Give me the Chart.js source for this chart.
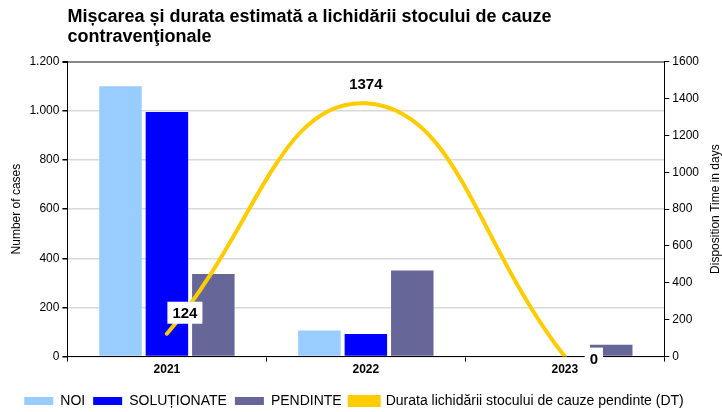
<!DOCTYPE html>
<html>
<head>
<meta charset="utf-8">
<script src="https://cdn.jsdelivr.net/npm/chart.js@4.4.1/dist/chart.umd.min.js"></script>
<style>
  html, body { margin: 0; padding: 0; background: #fff; }
  #wrap { width: 722px; height: 412px; }
</style>
</head>
<body>
<div id="wrap"><canvas id="chart"></canvas></div>
<script>
/* DATA */
const years = ["2021", "2022", "2023"];
const noi = [1100, 106, 0];
const solutionate = [995, 92, 0];
const pendinte = [336, 350, 48];
const durata = [124, 1374, 0];

const FONT = "'Liberation Sans', Arial, sans-serif";

/* label offsets for the DT line values */
const labelOffsets = [[18, -21], [0, -19], [29, 2]];

const fmtThousands = v => String(v).replace(/\B(?=(\d{3})+(?!\d))/g, ".");

/* value labels on the line */
const lineLabels = {
    id: "lineLabels",
    afterDatasetsDraw(chart) {
        const meta = chart.getDatasetMeta(3);
        const ctx = chart.ctx;
        ctx.save();
        ctx.font = "bold 15px " + FONT;
        ctx.textAlign = "center";
        ctx.textBaseline = "middle";
        meta.data.forEach((pt, i) => {
            const txt = String(durata[i]);
            const x = pt.x + labelOffsets[i][0];
            const y = pt.y + labelOffsets[i][1];
            const w = ctx.measureText(txt).width + 10;
            ctx.fillStyle = "#fff";
            ctx.fillRect(x - w / 2, y - 11, w, 22);
            ctx.fillStyle = "#000";
            ctx.fillText(txt, x, y + 1);
        });
        ctx.restore();
    }
};

/* right axis title, read bottom to top */
const rightTitle = {
    id: "rightTitle",
    afterDraw(chart) {
        const ctx = chart.ctx;
        const a = chart.chartArea;
        ctx.save();
        ctx.translate(chart.width - 6, (a.top + a.bottom) / 2);
        ctx.rotate(-Math.PI / 2);
        ctx.font = "12px " + FONT;
        ctx.fillStyle = "#000";
        ctx.textAlign = "center";
        ctx.textBaseline = "middle";
        ctx.fillText("Disposition Time in days", 0, 0);
        ctx.restore();
    }
};

new Chart(document.getElementById("chart"), {
    type: "bar",
    data: {
        labels: years,
        datasets: [
            { label: "NOI", data: noi, backgroundColor: "#99CCFF", yAxisID: "y" },
            { label: "SOLUȚIONATE", data: solutionate, backgroundColor: "#0000FF", yAxisID: "y" },
            { label: "PENDINTE", data: pendinte, backgroundColor: "#666699", yAxisID: "y" },
            {
                type: "line", label: "Durata lichidării stocului de cauze pendinte (DT)",
                data: durata, yAxisID: "y1", order: -1,
                borderColor: "#FFCC00", backgroundColor: "#FFCC00",
                borderWidth: 4, borderCapStyle: "round", tension: 0.45,
                pointRadius: 0, pointHoverRadius: 0
            }
        ]
    },
    options: {
        responsive: true,
        maintainAspectRatio: false,
        animation: false,
        categoryPercentage: 0.7,
        barPercentage: 0.915,
        layout: { padding: { left: 6, right: 20, top: 4, bottom: -6 } },
        plugins: {
            tooltip: { enabled: false },
            title: {
                display: true,
                fullSize: false,
                align: "start",
                text: ["Mișcarea și durata estimată a lichidării stocului de cauze", "contravenţionale"],
                color: "#000",
                font: { family: FONT, size: 18, weight: "bold", lineHeight: 1.1 },
                padding: { top: 3, bottom: 15 }
            },
            legend: {
                position: "bottom",
                labels: {
                    color: "#000",
                    boxWidth: 29, boxHeight: 8,
                    padding: 8,
                    font: { family: FONT, size: 14 },
                    sort: (a, b) => a.datasetIndex - b.datasetIndex
                }
            }
        },
        scales: {
            x: {
                grid: { offset: true, drawOnChartArea: false, tickLength: 5, tickColor: "#000" },
                border: { color: "#000", width: 1 },
                ticks: { color: "#000", font: { family: FONT, size: 12, weight: "bold" }, padding: 1 },
                afterFit: s => { s.height += 8; }
            },
            y: {
                position: "left",
                min: 0, max: 1200,
                ticks: {
                    stepSize: 200, color: "#000", padding: 3,
                    font: { family: FONT, size: 12 },
                    callback: v => fmtThousands(v)
                },
                grid: {
                    color: c => c.tick && c.tick.value === 1200 ? "#888" : "#d9d9d9",
                    lineWidth: c => c.tick && c.tick.value === 1200 ? 2 : 1.5,
                    tickLength: 5, tickColor: "#000"
                },
                border: { color: "#000", width: 1 },
                title: { display: true, text: "Number of cases", color: "#000", font: { family: FONT, size: 12 }, padding: 3 }
            },
            y1: {
                position: "right",
                min: 0, max: 1600,
                ticks: {
                    stepSize: 200, color: "#000", padding: 3,
                    font: { family: FONT, size: 12 },
                    callback: v => String(v)
                },
                grid: { drawOnChartArea: false, tickLength: 5, tickColor: "#000" },
                border: { color: "#000", width: 1 }
            }
        }
    },
    plugins: [lineLabels, rightTitle]
});
</script>
</body>
</html>
